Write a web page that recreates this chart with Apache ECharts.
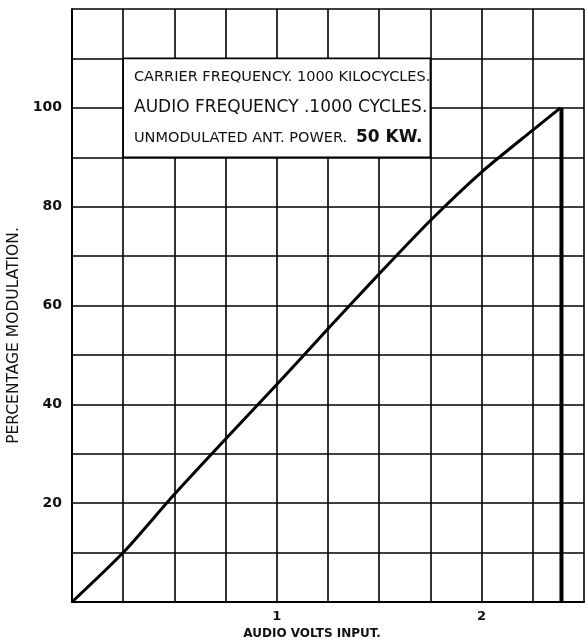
<!DOCTYPE html>
<html>
<head>
<meta charset="utf-8">
<script src="https://cdn.jsdelivr.net/npm/echarts@6/dist/echarts.min.js"></script>
<style>html,body{margin:0;padding:0;background:#fff}#c{width:585px;height:643px}</style>
</head>
<body>
<div id="c"></div>
<script>
// Data
const voltsInput = [0, 0.25, 0.5, 0.75, 1.0, 1.25, 1.5, 1.75, 2.0, 2.25, 2.385];
const percentModulation = [0, 10, 21.8, 33, 44, 55.3, 66.4, 77.2, 87, 95.5, 100];
const limitLineVolts = [2.39, 2.39];
const limitLinePercent = [0, 100];
const xTickLabels = [1, 2];
const yTickLabels = [20, 40, 60, 80, 100];
const noteBox = { x0: 0.25, x1: 1.75, y0: 90, y1: 110 };
const noteLines = [
  'CARRIER FREQUENCY. 1000 KILOCYCLES.',
  'AUDIO FREQUENCY .1000 CYCLES.',
  'UNMODULATED ANT. POWER.',
  '50 KW.'
];
const xAxisTitle = 'AUDIO VOLTS INPUT.';
const yAxisTitle = 'PERCENTAGE MODULATION.';

const chart = echarts.init(document.getElementById('c'), null, { renderer: 'canvas' });
const FONT = 'DejaVu Sans';
const option = {
  backgroundColor: '#fff',
  animation: false,
  grid: { left: 72, right: 1, top: 9, bottom: 41, outerBoundsMode: 'none', containLabel: false },
  xAxis: {
    type: 'value', min: 0, max: 2.5, interval: 0.25,
    axisLine: { show: true, lineStyle: { color: '#000', width: 2 } },
    axisTick: { show: false },
    splitLine: { show: true, lineStyle: { color: '#000', width: 1.6 } },
    axisLabel: {
      margin: 8, color: '#111', fontFamily: FONT, fontWeight: 'bold', fontSize: 13,
      formatter: v => xTickLabels.indexOf(v) >= 0 ? String(v) : ''
    },
    name: xAxisTitle, nameLocation: 'middle', nameGap: 26,
    nameTextStyle: { color: '#111', fontFamily: FONT, fontWeight: 'bold', fontSize: 12, padding: [0, 32, 0, 0] }
  },
  yAxis: {
    type: 'value', min: 0, max: 120, interval: 10,
    axisLine: { show: true, lineStyle: { color: '#000', width: 2 } },
    axisTick: { show: false },
    splitLine: { show: true, lineStyle: { color: '#000', width: 1.6 } },
    axisLabel: {
      margin: 10, color: '#111', fontFamily: FONT, fontWeight: 'bold', fontSize: 14,
      formatter: v => yTickLabels.indexOf(v) >= 0 ? String(v) : ''
    },
    name: yAxisTitle, nameLocation: 'middle', nameGap: 43, nameRotate: 90,
    nameTextStyle: { color: '#111', fontFamily: FONT, fontSize: 15.5, padding: [0, 60, 0, 0] }
  },
  series: [
    {
      type: 'line',
      data: voltsInput.map((v, i) => [v, percentModulation[i]]),
      smooth: 0.25, symbol: 'none',
      lineStyle: { color: '#000', width: 3 },
      markArea: {
        silent: true,
        itemStyle: { color: '#fff', borderColor: '#000', borderWidth: 1.6 },
        data: [[{ coord: [noteBox.x0, noteBox.y1] }, { coord: [noteBox.x1, noteBox.y0] }]]
      },
      z: 3
    },
    {
      type: 'line',
      data: limitLineVolts.map((v, i) => [v, limitLinePercent[i]]),
      symbol: 'none',
      lineStyle: { color: '#000', width: 4 },
      z: 3
    }
  ],
  graphic: [
    { type: 'text', left: 134, top: 70, z: 10,
      style: { text: noteLines[0], fill: '#111', font: '14.5px "DejaVu Sans"' } },
    { type: 'text', left: 134, top: 99, z: 10,
      style: { text: noteLines[1], fill: '#111', font: '17px "DejaVu Sans"' } },
    { type: 'text', left: 134, top: 131, z: 10,
      style: { text: noteLines[2], fill: '#111', font: '14.5px "DejaVu Sans"' } },
    { type: 'text', left: 356, top: 129, z: 10,
      style: { text: noteLines[3], fill: '#111', font: 'bold 17px "DejaVu Sans"' } }
  ]
};
chart.setOption(option);
</script>
</body>
</html>
